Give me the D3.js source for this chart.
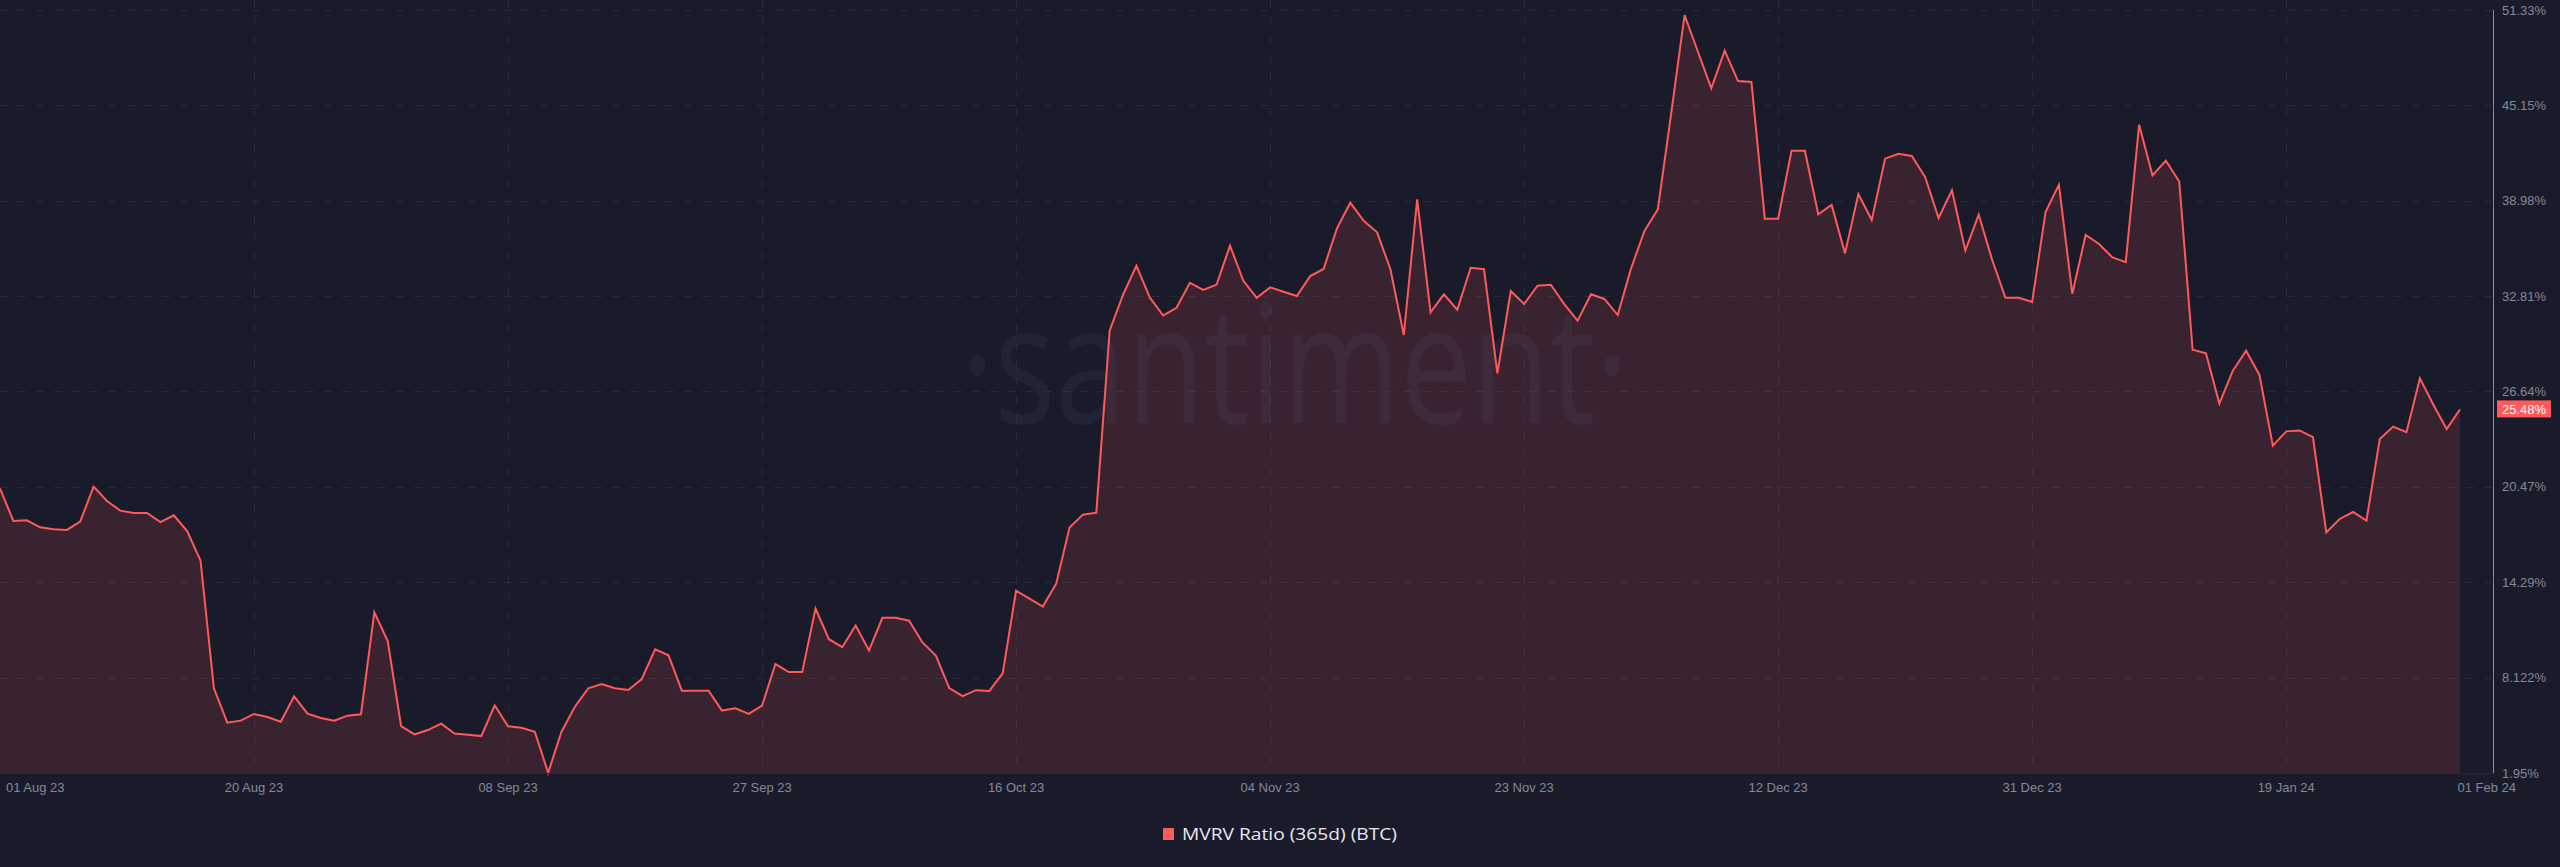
<!DOCTYPE html>
<html>
<head>
<meta charset="utf-8">
<script src="https://cdn.jsdelivr.net/npm/d3@7"></script>
<style>
  html, body { margin: 0; padding: 0; background: #191b2a; }
  svg { display: block; }
</style>
</head>
<body>
<svg id="chart" width="2560" height="867"></svg>
<script>
// ---- data ----
const startDate = "2023-08-01";
const endDate = "2024-02-01";
const seriesName = "MVRV Ratio (365d) (BTC)";
const mvrvValues = [
  20.37, 18.26, 18.30, 17.85, 17.72, 17.68, 18.22, 20.48, 19.55, 18.93,
  18.78, 18.78, 18.19, 18.63, 17.61, 15.69, 7.43, 5.21, 5.34, 5.77,
  5.57, 5.27, 6.91, 5.79, 5.51, 5.34, 5.66, 5.75, 12.35, 10.49,
  4.99, 4.45, 4.73, 5.14, 4.50, 4.43, 4.34, 6.33, 4.97, 4.88,
  4.62, 1.97, 4.62, 6.24, 7.43, 7.71, 7.43, 7.32, 8.03, 9.96,
  9.57, 7.28, 7.28, 7.28, 5.99, 6.14, 5.78, 6.32, 9.00, 8.48,
  8.48, 12.59, 10.61, 10.09, 11.50, 9.88, 11.99, 11.99, 11.81, 10.40,
  9.55, 7.44, 6.92, 7.31, 7.26, 8.40, 13.75, 13.24, 12.72, 14.20,
  17.84, 18.67, 18.80, 30.57, 32.91, 34.78, 32.73, 31.56, 32.06, 33.67,
  33.22, 33.56, 36.08, 33.80, 32.70, 33.38, 33.10, 32.82, 34.11, 34.57,
  37.20, 38.86, 37.69, 36.94, 34.55, 30.30, 39.08, 31.76, 32.93, 31.93,
  34.65, 34.55, 27.82, 33.14, 32.30, 33.49, 33.55, 32.30, 31.22, 32.93,
  32.63, 31.59, 34.61, 37.03, 38.43, 44.64, 51.00, 48.63, 46.26, 48.70,
  46.73, 46.67, 37.82, 37.82, 42.22, 42.22, 38.11, 38.71, 35.58, 39.42,
  37.74, 41.71, 42.03, 41.88, 40.51, 37.87, 39.67, 35.76, 38.09, 35.18,
  32.71, 32.71, 32.43, 38.26, 40.03, 32.96, 36.77, 36.19, 35.32, 35.01,
  43.91, 40.62, 41.58, 40.23, 29.34, 29.11, 25.86, 27.97, 29.28, 27.71,
  23.14, 24.06, 24.12, 23.69, 17.52, 18.39, 18.84, 18.28, 23.56, 24.37,
  24.01, 27.49, 25.80, 24.21, 25.48
];
const yTickValues = [51.33, 45.15, 38.98, 32.81, 26.64, 20.47, 14.29, 8.122, 1.95];
const yTickLabels = ["51.33%", "45.15%", "38.98%", "32.81%", "26.64%", "20.47%", "14.29%", "8.122%", "1.95%"];
const xTickDates = ["2023-08-01", "2023-08-20", "2023-09-08", "2023-09-27", "2023-10-16",
                    "2023-11-04", "2023-11-23", "2023-12-12", "2023-12-31", "2024-01-19", "2024-02-01"];
const xTickLabels = ["01 Aug 23", "20 Aug 23", "08 Sep 23", "27 Sep 23", "16 Oct 23",
                     "04 Nov 23", "23 Nov 23", "12 Dec 23", "31 Dec 23", "19 Jan 24", "01 Feb 24"];

// ---- build ----
const parse = d3.utcParse("%Y-%m-%d");
const t0 = parse(startDate);
const data = mvrvValues.map((v, i) => ({ date: d3.utcDay.offset(t0, i), value: v }));

const svg = d3.select("#chart");
const W = 2560, H = 867;
const plotLeft = 0, plotRight = 2460, axisX = 2493, plotTop = 10, plotBottom = 773;

const x = d3.scaleUtc().domain([t0, parse(endDate)]).range([plotLeft, plotRight]);
const y = d3.scaleLinear().domain([1.95, 51.33]).range([plotBottom, plotTop]);

svg.append("rect").attr("width", W).attr("height", H).attr("fill", "#191b2a");

const gridColor = "#262a3c";
// horizontal grid
svg.append("g").selectAll("line").data(yTickValues).join("line")
  .attr("x1", 0).attr("x2", axisX)
  .attr("y1", d => Math.round(y(d)) + 0.5).attr("y2", d => Math.round(y(d)) + 0.5)
  .attr("stroke", gridColor).attr("stroke-width", 1).attr("stroke-dasharray", "8,10");

// vertical grid (inner ticks)
const tickDates = xTickDates.map(parse);
svg.append("g").selectAll("line").data(tickDates.slice(1, -1)).join("line")
  .attr("x1", d => Math.round(x(d)) + 0.5).attr("x2", d => Math.round(x(d)) + 0.5)
  .attr("y1", 0).attr("y2", plotBottom)
  .attr("stroke", gridColor).attr("stroke-width", 1).attr("stroke-dasharray", "8,10");

// area + line
const area = d3.area().x(d => x(d.date)).y0(plotBottom).y1(d => y(d.value));
const line = d3.line().x(d => x(d.date)).y(d => y(d.value));
svg.append("path").datum(data).attr("d", area).attr("fill", "rgba(255,87,87,0.14)");

// watermark
svg.append("text")
  .attr("x", 1295).attr("y", 423)
  .attr("text-anchor", "middle")
  .attr("font-family", "'Open Sans', sans-serif")
  .attr("font-weight", 400)
  .attr("font-size", 164)
  .attr("textLength", 668).attr("lengthAdjust", "spacingAndGlyphs")
  .attr("fill", "#6a7aaa").attr("fill-opacity", 0.085)
  .text("·santiment·");

svg.append("path").datum(data).attr("d", line)
  .attr("fill", "none").attr("stroke", "#ff5a5a").attr("stroke-width", 2)
  .attr("stroke-linejoin", "miter");

// bottom baseline
svg.append("line").attr("x1", 0).attr("x2", axisX)
  .attr("y1", plotBottom + 0.5).attr("y2", plotBottom + 0.5)
  .attr("stroke", "#23263a").attr("stroke-width", 1);

// right axis line
svg.append("line").attr("x1", axisX + 0.5).attr("x2", axisX + 0.5)
  .attr("y1", plotTop).attr("y2", plotBottom)
  .attr("stroke", "#ff5a5a").attr("stroke-width", 1);

// y labels
const labelFont = "'Liberation Sans', Arial, sans-serif";
svg.append("g").selectAll("text").data(yTickValues).join("text")
  .attr("x", 2502).attr("y", d => y(d))
  .attr("dominant-baseline", "central")
  .attr("font-family", labelFont).attr("font-size", 13)
  .attr("fill", "#838899")
  .text((d, i) => yTickLabels[i]);

// x labels
svg.append("g").selectAll("text").data(tickDates).join("text")
  .attr("x", (d, i) => i === 0 ? x(d) + 6 : (i === tickDates.length - 1 ? x(d) + 56 : x(d)))
  .attr("y", 787)
  .attr("dominant-baseline", "central")
  .attr("text-anchor", (d, i) => i === 0 ? "start" : (i === tickDates.length - 1 ? "end" : "middle"))
  .attr("font-family", labelFont).attr("font-size", 13)
  .attr("fill", "#838899")
  .text((d, i) => xTickLabels[i]);

// last value badge
const last = data[data.length - 1];
const ly = y(last.value);
svg.append("rect").attr("x", 2497).attr("y", ly - 9).attr("width", 54).attr("height", 17)
  .attr("fill", "#ff5a5a");
svg.append("text").attr("x", 2524).attr("y", ly)
  .attr("text-anchor", "middle").attr("dominant-baseline", "central")
  .attr("font-family", labelFont).attr("font-size", 13).attr("fill", "#ffffff")
  .text(last.value.toFixed(2) + "%");

// legend
const lg = svg.append("g");
lg.append("rect").attr("x", 1163).attr("y", 828).attr("width", 11).attr("height", 12).attr("fill", "#ff5a5a");
lg.append("text").attr("x", 1182).attr("y", 840)
  .attr("font-family", "'Open Sans', Lato, sans-serif").attr("font-size", 16.5)
  .attr("textLength", 215).attr("lengthAdjust", "spacingAndGlyphs")
  .attr("fill", "#e8e9ef")
  .text(seriesName);
</script>
</body>
</html>
